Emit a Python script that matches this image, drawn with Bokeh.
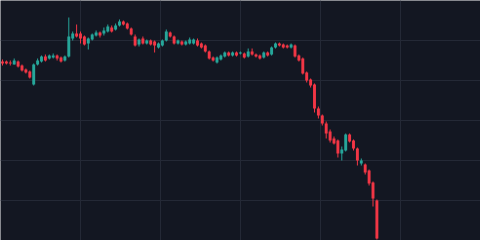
from bokeh.plotting import figure
from bokeh.models import Range1d, FixedTicker, ColumnDataSource
from bokeh.embed import file_html
from bokeh.resources import INLINE

opens = [179,179,178,176,179,175,171,169,156,176,179,184,182,183,185,183,180,184,202,207,
         207,204,197,201,205,208,207,209,213,211,215,219,217,212,204,196,202,197,200,199,
         193,195,200,208,204,197,199,196,197,197,200,197,195,189,183,178,181,184,188,185,
         188,187,187,184,189,186,185,183,188,186,193,197,196,195,193,195,185,182,168,161,
         156,132,125,117,109,102,100,87,90,106,100,92,77,76,70,58,40]
highs = [181,180,180,182,180,176,172,170,177,182,185,186,186,187,186,184,185,223,209,216,
         209,205,203,207,210,209,213,216,215,217,221,220,218,213,206,202,204,201,201,200,
         198,201,211,209,205,201,200,200,203,202,202,198,196,190,184,184,186,189,189,189,
         189,189,188,192,192,187,186,189,189,194,198,198,197,196,197,196,186,183,169,162,
         157,134,126,119,111,104,101,94,107,107,101,93,82,77,71,59,41]
lows = [175,176,175,176,173,169,167,162,155,175,178,179,181,182,180,178,179,183,200,203,
        197,195,191,200,204,203,205,208,208,210,214,215,211,205,194,194,196,196,195,188,
        192,194,199,203,196,196,195,195,196,196,194,192,188,181,179,177,180,183,184,184,
        184,186,182,183,185,183,181,182,184,185,192,194,192,192,192,183,179,166,158,153,
        128,122,115,102,98,96,83,80,89,98,90,75,75,66,55,34,1]
closes = [177,177,177,180,174,170,168,163,176,180,184,180,185,185,182,179,184,204,207,204,
          202,196,202,206,208,205,210,214,209,215,219,216,212,206,195,201,197,200,196,195,
          197,200,209,204,197,200,196,199,201,201,195,193,189,182,180,183,185,188,185,188,
          185,188,183,189,186,184,182,188,185,193,197,195,193,193,196,184,180,167,160,155,
          132,125,117,107,100,97,87,91,106,99,92,80,80,68,57,42,2]

UP = "#26a69a"
DOWN = "#f23645"
BG = "#131722"
GRID = "#242936"

idx = list(range(len(opens)))
colors = [UP if c >= o else DOWN for o, c in zip(opens, closes)]
top = [max(o, c) for o, c in zip(opens, closes)]
bot = [min(o, c) for o, c in zip(opens, closes)]
src = ColumnDataSource(dict(x=idx, o=opens, h=highs, l=lows, c=closes,
                            top=top, bot=bot, color=colors))

step = 3.9
x0 = -2.0 / step
x1 = x0 + 480 / step
p = figure(width=480, height=240, output_backend="svg", toolbar_location=None,
           x_range=Range1d(x0, x1), y_range=Range1d(0, 240), min_border=0)
p.background_fill_color = BG
p.border_fill_color = BG
p.outline_line_color = None
p.axis.visible = False
p.xaxis.ticker = FixedTicker(ticks=[x0 + k * (x1 - x0) / 6 for k in range(6)])
p.yaxis.ticker = FixedTicker(ticks=[40, 80, 120, 160, 200, 240])
p.grid.grid_line_color = GRID
p.grid.grid_line_width = 1

p.segment(x0="x", y0="h", x1="x", y1="l", color="color", line_width=1, source=src)
p.vbar(x="x", top="top", bottom="bot", width=0.75, fill_color="color",
       line_color=None, source=src)

open("out.html", "w").write(file_html(p, INLINE))
